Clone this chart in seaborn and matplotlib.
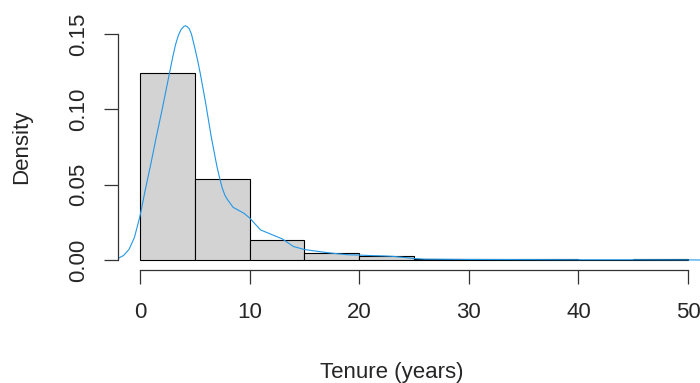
import numpy as np
import pandas as pd
import matplotlib
matplotlib.use("Agg")
import matplotlib.pyplot as plt
import seaborn as sns
from matplotlib.ticker import FormatStrFormatter

# histogram bins (width 5 years) and their density heights
bin_edges = [0, 5, 10, 15, 20, 25, 30, 35, 40, 45, 50]
bin_density = [0.1242, 0.0538, 0.0135, 0.0046, 0.0027, 0.0008, 0.0004, 0.0004, 0.0, 0.0004]

# density curve
kde_x = [-2.2, -1.5, -1.0, -0.5, 0, 0.5, 1, 1.5, 2, 2.5, 3, 3.25, 3.5, 3.75, 4, 4.15, 4.3,
         4.5, 4.7, 5, 5.25, 5.5, 6, 6.5, 7, 7.25, 7.5, 7.75, 8, 8.5, 9, 9.5, 10, 10.5, 11,
         12, 13, 14, 15, 16, 17, 18, 19, 20, 21, 22, 23, 24, 25, 26, 28, 30, 35, 40, 45,
         50, 52]
kde_y = [0.0003, 0.003, 0.007, 0.015, 0.029, 0.047, 0.064, 0.082, 0.099, 0.117, 0.135,
         0.143, 0.149, 0.153, 0.155, 0.1555, 0.155, 0.1535, 0.150, 0.141, 0.133, 0.124,
         0.104, 0.082, 0.063, 0.055, 0.048, 0.043, 0.040, 0.035, 0.033, 0.031, 0.028,
         0.024, 0.020, 0.017, 0.014, 0.009, 0.007, 0.006, 0.005, 0.0042, 0.0035, 0.0033,
         0.003, 0.0028, 0.0025, 0.0018, 0.0010, 0.0006, 0.0005, 0.0004, 0.0003, 0.0002,
         0.0002, 0.0001, 0.0]

sns.set_style("ticks")
plt.rcParams['font.family'] = ['Liberation Sans', 'DejaVu Sans']

fig = plt.figure(figsize=(7, 3.83), dpi=100)
ax = fig.add_axes([118 / 700, 113 / 383, 592 / 700, 270 / 383])

sns.histplot(x=bin_edges[:-1], weights=bin_density, bins=bin_edges, stat="count",
             color="#D3D3D3", edgecolor="black", linewidth=0.8, alpha=1, ax=ax)
df_kde = pd.DataFrame({"x": kde_x, "y": kde_y})
sns.lineplot(data=df_kde, x="x", y="y", color="#2297E6", linewidth=0.8,
             sort=False, estimator=None, ax=ax)

ax.set_xlim(-2, 52)
ax.set_ylim(-0.0066, 0.1726)
ax.set_xticks([0, 10, 20, 30, 40, 50])
ax.set_yticks([0, 0.05, 0.10, 0.15])
ax.yaxis.set_major_formatter(FormatStrFormatter('%.2f'))

for s in ["top", "right"]:
    ax.spines[s].set_visible(False)
ax.spines["bottom"].set_bounds(0, 50)
ax.spines["left"].set_bounds(0, 0.15)
for s in ["bottom", "left"]:
    ax.spines[s].set_color("#333333")
    ax.spines[s].set_linewidth(0.9)

ax.tick_params(axis="both", length=10, width=0.9, color="#333333", labelsize=16)
ax.tick_params(axis="x", pad=13)
ax.tick_params(axis="y", labelrotation=90, pad=11)
for lab in ax.get_yticklabels():
    lab.set_va("center")

ax.set_xlabel("Tenure (years)", fontsize=16)
ax.set_ylabel("Density", fontsize=16)
ax.xaxis.set_label_coords(25 / 54, -0.378)
ax.xaxis.label.set_va("center")
ax.yaxis.set_label_coords(-0.162, (270 - 147) / 270)
ax.yaxis.label.set_va("center")

fig.savefig("out.png", dpi=100)
